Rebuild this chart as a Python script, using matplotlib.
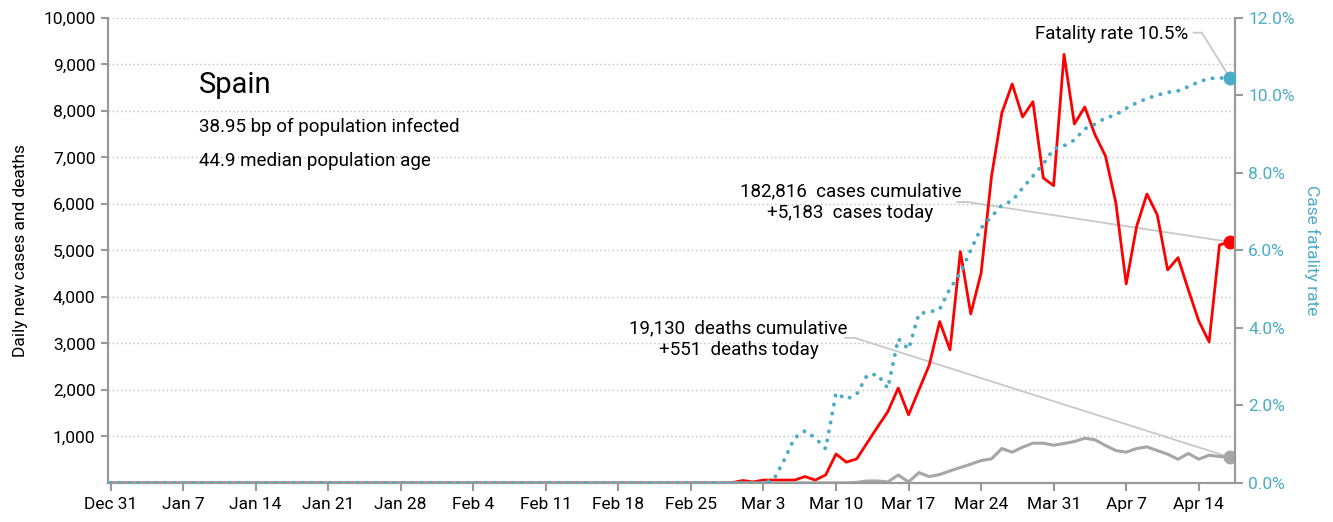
import matplotlib
matplotlib.use('Agg')
import matplotlib.pyplot as plt
import matplotlib.dates as mdates
from matplotlib.ticker import FuncFormatter
import numpy as np
import pandas as pd

plt.rcParams['font.family'] = ['Roboto', 'DejaVu Sans']

# ---------------- dados ----------------
datas = pd.date_range('2019-12-31', '2020-04-17', freq='D')

# casos novos por dia
casos = [0] * 59 + [
    0, 5, 50, 20, 60, 60, 60, 60, 135, 60, 170,
    620, 445, 516, 860, 1200, 1533, 2040, 1462, 2000, 2537,
    3470, 2860, 4974, 3634, 4516, 6587, 7957, 8581, 7871, 8200,
    6559, 6394, 9219, 7720, 8086, 7484, 7032, 6022, 4280, 5512,
    6215, 5763, 4581, 4845, 4150, 3484, 3032, 5118, 5183,
]

# mortes novas por dia
mortes = [0] * 72 + [
    10, 40, 40, 20, 170, 20, 220, 135, 180, 258,
    330, 401, 480, 516, 738, 660, 767, 853, 853, 810,
    846, 889, 961, 925, 803, 695, 660, 738, 774, 695,
    617, 509, 631, 509, 595, 566, 551,
]

# taxa de letalidade (%)
letalidade = [0] * 64 + [
    0.09, 0.59, 1.16, 1.34, 1.16, 0.88, 2.32, 2.16, 2.29, 2.78,
    2.80, 2.44, 3.72, 3.45, 4.37, 4.41, 4.48, 5.02, 5.41, 6.01,
    6.58, 6.87, 7.17, 7.28, 7.61, 7.92, 8.23, 8.62, 8.70, 8.85,
    9.14, 9.26, 9.42, 9.50, 9.67, 9.81, 9.92, 10.01, 10.08, 10.12,
    10.23, 10.35, 10.44, 10.45, 10.46,
]

pais = 'Spain'
info_linhas = ['38.95 bp of population infected', '44.9 median population age']
txt_fatal = 'Fatality rate 10.5%'
txt_casos = '182,816  cases cumulative\n+5,183  cases today'
txt_mortes = '19,130  deaths cumulative\n+551  deaths today'

COR_CASOS = '#ff0000'
COR_MORTES = '#a6a6a6'
COR_CFR = '#4bacc6'
COR_EIXO = '#999999'
COR_GUIA = '#c8c8c8'

# ---------------- gráfico ----------------
fig = plt.figure(figsize=(13.33, 5.22), dpi=100)
ax = fig.add_axes([0.081, 0.075, 0.8455, 0.8905])
ax2 = ax.twinx()

ax.plot(datas, casos, color=COR_CASOS, linewidth=2, zorder=3)
ax.plot(datas, mortes, color=COR_MORTES, linewidth=2.2, zorder=3)
ax.plot(datas[-1], casos[-1], 'o', color=COR_CASOS, markersize=9, zorder=4)
ax.plot(datas[-1], mortes[-1], 'o', color=COR_MORTES, markersize=9, zorder=4)

# linha pontilhada (pontos redondos espaçados)
ax2.plot(datas, letalidade, color=COR_CFR, linewidth=2.8, linestyle=(0, (0.05, 2.3)),
         dash_capstyle='round', zorder=3)
ax2.plot(datas[-1], letalidade[-1], 'o', color=COR_CFR, markersize=9, zorder=4)

# eixos
dia = lambda n: datas[0] + pd.Timedelta(days=n)
ax.set_xlim(dia(-0.25), dia(108.5))
ax.set_ylim(0, 10000)
ax2.set_ylim(0, 12)

ax.set_xticks(pd.date_range('2019-12-31', '2020-04-14', freq='7D'))
ax.xaxis.set_major_formatter(FuncFormatter(lambda v, p: f"{mdates.num2date(v):%b} {mdates.num2date(v).day}"))
ax.set_yticks(np.arange(1000, 10001, 1000))
ax.yaxis.set_major_formatter(FuncFormatter(lambda v, p: f"{int(v):,}"))
ax2.set_yticks(np.arange(0, 12.1, 2))
ax2.yaxis.set_major_formatter(FuncFormatter(lambda v, p: f"{v:.1f}%"))

ax.grid(True, axis='y', color='#bfbfbf', linestyle=(0, (1, 2)), linewidth=1)
ax.set_axisbelow(True)

for a in (ax, ax2):
    a.spines['top'].set_visible(False)
    for s in ('left', 'right', 'bottom'):
        a.spines[s].set_color(COR_EIXO)
        a.spines[s].set_linewidth(1.5)

ax.tick_params(axis='x', labelsize=12.5, color=COR_EIXO, length=6, width=1.5, pad=4)
ax.tick_params(axis='y', labelsize=12.5, color=COR_EIXO, length=5, width=1.5, pad=4)
ax2.tick_params(axis='y', labelsize=12.5, color=COR_EIXO, labelcolor=COR_CFR, length=6, width=1.5)

ax.set_ylabel('Daily new cases and deaths', fontsize=12.5, labelpad=11)
ax2.set_ylabel('Case fatality rate', fontsize=12.5, color=COR_CFR, rotation=270, labelpad=18)

# textos
ax.text(0.081, 0.855, pais, transform=ax.transAxes, fontsize=21, va='center')
ax.text(0.081, 0.765, info_linhas[0], transform=ax.transAxes, fontsize=13.5, va='center')
ax.text(0.081, 0.692, info_linhas[1], transform=ax.transAxes, fontsize=13.5, va='center')

# anotações com linhas-guia
ax2.text(dia(104.0), 11.59, txt_fatal, ha='right', va='center', fontsize=13.5)
ax2.plot([dia(104.5), dia(105.3), datas[-1]], [11.62, 11.62, letalidade[-1]],
         color=COR_GUIA, linewidth=1.3, zorder=2)

ax.text(dia(71.4), 6040, txt_casos, ha='center', va='center', fontsize=13.5, linespacing=1.25)
ax.plot([dia(81.7), dia(82.7), datas[-1]], [6040, 6040, casos[-1]],
        color=COR_GUIA, linewidth=1.3, zorder=2)

ax.text(dia(60.6), 3090, txt_mortes, ha='center', va='center', fontsize=13.5, linespacing=1.25)
ax.plot([dia(70.9), dia(71.8), datas[-1]], [3118, 3118, mortes[-1]],
        color=COR_GUIA, linewidth=1.3, zorder=2)

fig.savefig('out.png', dpi=100)
